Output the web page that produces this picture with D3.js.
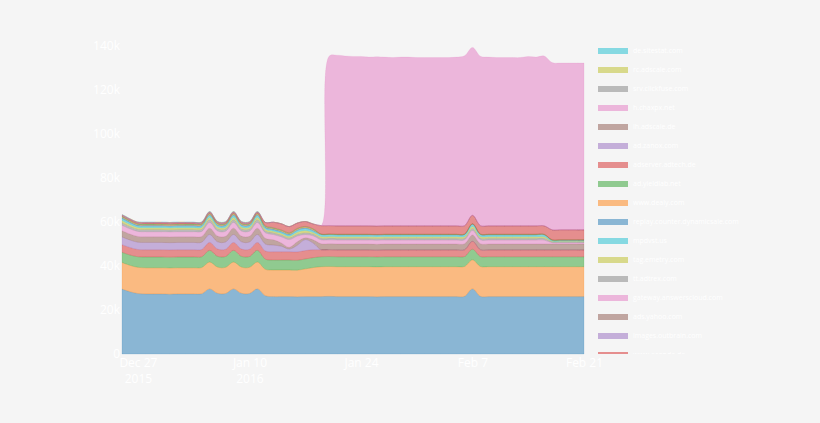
<!DOCTYPE html>
<html><head><meta charset="utf-8">
<script src="https://cdn.jsdelivr.net/npm/d3@7"></script>
<style>
html,body{margin:0;padding:0;background:#f5f5f5;}
svg{display:block;font-family:"Open Sans",sans-serif;}
</style></head>
<body>
<svg id="chart" width="820" height="423"></svg>
<script>
// ---- DATA (values in thousands of requests, one per day from Dec 25 2015) ----
const startDate = new Date(2015, 11, 25);
const dayCount = 59;
const seriesNames = [
  "stats.g.doubleclick.net","www.google-analytics.com","www.googletagmanager.com","www.econda.de",
  "images.outbrain.com","ads.yahoo.com","gateway.answerscloud.com","tt.adtrex.com",
  "tag.emetry.com","mpdvst.us","replay.counter.dynamicsale.com","www.dealy.com",
  "ad.yieldlab.net","adserver.adtech.de","ad.zanox.com","ih.adscale.de",
  "h.chaxpx.net","srv.clickfuse.com","rc.adscale.com","de.sitestat.com"
];
const s0 = [29.5,28.3,27.5,27.3,27.3,27.3,27.2,27.3,27.3,27.3,
  27.4,29.6,27.6,27.5,29.6,27.6,27.5,29.6,26.5,26.1,
  26.1,26.1,26.0,26.1,26.1,26.1,26.2,26.1,26.1,26.1,
  26.1,26.1,26.0,26.1,26.1,26.1,26.1,26.1,26.1,26.1,
  26.1,26.1,26.1,26.2,29.6,26.2,26.1,26.1,26.1,26.1,
  26.1,26.1,26.1,26.1,26.1,26.1,26.1,26.1,26.1];
const s1 = [12.1,12.0,11.9,11.9,11.9,11.9,11.9,11.9,11.9,11.9,
  11.9,12.2,11.9,11.9,12.2,11.9,11.9,12.2,12.0,12.1,
  12.1,12.1,12.1,12.6,13.2,13.6,13.6,13.6,13.6,13.6,
  13.6,13.6,13.6,13.6,13.6,13.6,13.6,13.6,13.6,13.6,
  13.6,13.6,13.6,13.6,13.2,13.6,13.6,13.6,13.6,13.6,
  13.6,13.6,13.6,13.6,13.6,13.6,13.6,13.6,13.6];
const s2 = [4.6,4.7,4.8,4.9,4.9,4.9,4.9,4.9,4.9,4.9,
  4.9,5.3,4.9,4.9,5.3,4.9,4.9,5.3,4.6,4.5,
  4.5,4.5,4.5,4.5,4.5,4.5,4.5,4.5,4.5,4.5,
  4.5,4.5,4.5,4.5,4.5,4.5,4.5,4.5,4.5,4.5,
  4.5,4.5,4.5,4.5,4.8,4.5,4.5,4.5,4.5,4.5,
  4.5,4.5,4.5,4.5,4.5,4.5,4.5,4.5,4.5];
const s3 = [3.5,3.4,3.3,3.3,3.3,3.3,3.3,3.3,3.3,3.3,
  3.3,3.6,3.3,3.3,3.6,3.3,3.3,3.6,3.7,3.8,
  3.8,3.8,3.8,3.8,3.6,3.2,3.1,3.1,3.1,3.1,
  3.1,3.1,3.1,3.1,3.1,3.1,3.1,3.1,3.1,3.1,
  3.1,3.1,3.1,3.1,3.6,3.1,3.1,3.1,3.1,3.1,
  3.1,3.1,3.1,3.1,3.1,3.1,3.1,3.1,3.1];
const s4 = [3.5,3.4,3.3,3.3,3.3,3.3,3.3,3.3,3.3,3.3,
  3.3,3.6,3.3,3.3,3.6,3.3,3.3,3.6,3.2,3.0,
  2.5,1.2,3.0,5.0,3.0,0,0,0,0,0,
  0,0,0,0,0,0,0,0,0,0,
  0,0,0,0,0,0,0,0,0,0,
  0,0,0,0,0,0,0,0,0];
const s5 = [2.8,2.7,2.6,2.6,2.6,2.6,2.6,2.6,2.6,2.6,
  2.6,2.9,2.6,2.6,2.9,2.6,2.6,2.9,2.6,2.4,
  1.5,0.8,1.6,0.8,1.5,2.7,2.7,2.7,2.7,2.7,
  2.7,2.7,2.7,2.7,2.7,2.7,2.7,2.7,2.7,2.7,
  2.7,2.7,2.7,2.7,2.9,2.7,2.7,2.7,2.7,2.7,
  2.7,2.7,2.7,2.7,2.7,2.7,2.7,2.7,2.7];
const s6 = [2.5,2.4,2.3,2.3,2.3,2.3,2.3,2.3,2.3,2.3,
  2.3,2.6,2.3,2.3,2.6,2.3,2.3,2.6,2.5,2.4,
  2.8,3.5,2.6,1.5,1.8,1.8,1.8,1.8,1.8,1.8,
  1.8,1.8,1.8,1.8,1.8,1.8,1.8,1.8,1.8,1.8,
  1.8,1.8,1.8,1.8,2.0,1.8,1.8,1.8,1.8,1.8,
  1.8,1.8,1.8,1.8,0.6,0.6,0.6,0.6,0.6];
const s7 = [1.2,1.1,1.0,1.0,1.0,1.0,1.0,1.0,1.0,1.0,
  1.0,1.2,1.0,1.0,1.2,1.0,1.0,1.2,0.9,0.8,
  0.8,0.8,0.8,0.8,0.8,0.8,0.8,0.8,0.8,0.8,
  0.8,0.8,0.8,0.8,0.8,0.8,0.8,0.8,0.8,0.8,
  0.8,0.8,0.8,0.8,1.0,0.8,0.8,0.8,0.8,0.8,
  0.8,0.8,0.8,0.8,0.4,0.4,0.4,0.4,0.4];
const s8 = [1.0,0.9,0.8,0.8,0.8,0.8,0.8,0.8,0.8,0.8,
  0.8,1.0,0.8,0.8,1.0,0.8,0.8,1.0,0.7,0.7,
  0.7,0.7,0.9,1.0,0.7,0.7,0.7,0.7,0.7,0.7,
  0.7,0.7,0.7,0.7,0.7,0.7,0.7,0.7,0.7,0.7,
  0.7,0.7,0.7,0.7,0.9,0.7,0.7,0.7,0.7,0.7,
  0.7,0.7,0.7,0.7,0.3,0.3,0.3,0.3,0.3];
const s9 = [0.9,0.8,0.7,0.7,0.7,0.7,0.7,0.7,0.7,0.7,
  0.7,0.9,0.7,0.7,0.9,0.7,0.7,0.9,0.6,0.6,
  0.6,0.6,0.8,0.9,0.7,0.8,0.8,0.8,0.8,0.8,
  0.8,0.8,0.8,0.8,0.8,0.8,0.8,0.8,0.8,0.8,
  0.8,0.8,0.8,0.8,0.9,0.8,0.8,0.8,0.8,0.8,
  0.8,0.8,0.8,0.8,0.3,0.3,0.3,0.3,0.3];
const s10 = [0.4,0.4,0.4,0.4,0.4,0.4,0.4,0.4,0.4,0.4,
  0.4,0.4,0.4,0.4,0.4,0.4,0.4,0.4,0.4,0.4,
  0.4,0.4,0.4,0.4,0.4,0.15,0.15,0.15,0.15,0.15,
  0.15,0.15,0.15,0.15,0.15,0.15,0.15,0.15,0.15,0.15,
  0.15,0.15,0.15,0.15,0.15,0.15,0.15,0.15,0.15,0.15,
  0.15,0.15,0.15,0.15,0.15,0.15,0.15,0.15,0.15];
const s11 = [0.3,0.3,0.3,0.3,0.3,0.3,0.3,0.3,0.3,0.3,
  0.3,0.3,0.3,0.3,0.3,0.3,0.3,0.3,0.3,0.3,
  0.3,0.3,0.3,0.3,0.3,0.1,0.1,0.1,0.1,0.1,
  0.1,0.1,0.1,0.1,0.1,0.1,0.1,0.1,0.1,0.1,
  0.1,0.1,0.1,0.1,0.1,0.1,0.1,0.1,0.1,0.1,
  0.1,0.1,0.1,0.1,0.1,0.1,0.1,0.1,0.1];
const s12 = [0.3,0.3,0.3,0.3,0.3,0.3,0.3,0.3,0.3,0.3,
  0.3,0.3,0.3,0.3,0.3,0.3,0.3,0.3,0.3,0.3,
  0.3,0.3,0.3,0.3,0.3,0.1,0.1,0.1,0.1,0.1,
  0.1,0.1,0.1,0.1,0.1,0.1,0.1,0.1,0.1,0.1,
  0.1,0.1,0.1,0.1,0.1,0.1,0.1,0.1,0.1,0.1,
  0.1,0.1,0.1,0.1,0.1,0.1,0.1,0.1,0.1];
const s13 = [0.4,0.4,0.4,0.4,0.4,0.4,0.4,0.4,0.4,0.4,
  0.4,0.4,0.4,0.4,0.4,0.4,0.4,0.4,1.5,2.5,
  2.8,2.8,2.4,2.2,2.2,3.8,3.8,3.8,3.8,3.8,
  3.8,3.8,3.8,3.8,3.8,3.8,3.8,3.8,3.8,3.8,
  3.8,3.8,3.8,3.8,3.8,3.8,3.8,3.8,3.8,3.8,
  3.8,3.8,3.8,3.8,4.5,4.5,4.5,4.5,4.5];
const s14 = [0.15,0.15,0.15,0.15,0.15,0.15,0.15,0.15,0.15,0.15,
  0.15,0.15,0.15,0.15,0.15,0.15,0.15,0.15,0,0,
  0,0,0,0,0,0,0,0,0,0,
  0,0,0,0,0,0,0,0,0,0,
  0,0,0,0,0,0,0,0,0,0,
  0,0,0,0,0,0,0,0,0];
const s15 = [0.15,0.15,0.15,0.15,0.15,0.15,0.15,0.15,0.15,0.15,
  0.15,0.15,0.15,0.15,0.15,0.15,0.15,0.15,0,0,
  0,0,0,0,0,0,0,0,0,0,
  0,0,0,0,0,0,0,0,0,0,
  0,0,0,0,0,0,0,0,0,0,
  0,0,0,0,0,0,0,0,0];
const s16 = [0,0,0,0,0,0,0,0,0,0,
  0,0,0,0,0,0,0,0,0,0,
  0,0,0,0,0,0,77.0,77.6,77.2,77.0,
  77.0,76.7,77.0,76.7,76.5,76.7,76.7,76.5,76.5,76.5,
  76.5,76.5,76.7,77.2,76.3,77.0,76.7,76.5,76.5,76.5,
  76.5,77.0,76.7,77.2,76.0,75.8,75.8,75.8,75.8];
const s17 = [0.15,0.15,0.15,0.15,0.15,0.15,0.15,0.15,0.15,0.15,
  0.15,0.15,0.15,0.15,0.15,0.15,0.15,0.15,0.15,0.15,
  0.15,0.15,0.15,0.15,0.15,0,0,0,0,0,
  0,0,0,0,0,0,0,0,0,0,
  0,0,0,0,0,0,0,0,0,0,
  0,0,0,0,0,0,0,0,0];
const s18 = [0.1,0.1,0.1,0.1,0.1,0.1,0.1,0.1,0.1,0.1,
  0.1,0.1,0.1,0.1,0.1,0.1,0.1,0.1,0.1,0.1,
  0.1,0.1,0.1,0.1,0.1,0,0,0,0,0,
  0,0,0,0,0,0,0,0,0,0,
  0,0,0,0,0,0,0,0,0,0,
  0,0,0,0,0,0,0,0,0];
const s19 = [0.1,0.1,0.1,0.1,0.1,0.1,0.1,0.1,0.1,0.1,
  0.1,0.1,0.1,0.1,0.1,0.1,0.1,0.1,0,0,
  0,0,0,0,0,0,0,0,0,0,
  0,0,0,0,0,0,0,0,0,0,
  0,0,0,0,0,0,0,0,0,0,
  0,0,0,0,0,0,0,0,0];
const seriesValues = [s0,s1,s2,s3,s4,s5,s6,s7,s8,s9,s10,s11,s12,s13,s14,s15,s16,s17,s18,s19];
const yTicks = [0,20,40,60,80,100,120,140];
const xTickDates = [new Date(2015,11,27), new Date(2016,0,10), new Date(2016,0,24), new Date(2016,1,7), new Date(2016,1,21)];
const xTickLabels = [["Dec 27","2015"],["Jan 10","2016"],["Jan 24"],["Feb 7"],["Feb 21"]];

// ---- BUILD ----
(function () {
const rows = d3.range(dayCount).map(i => {
  const r = {date: d3.timeDay.offset(startDate, i)};
  seriesNames.forEach((n, k) => r[n] = seriesValues[k][i]);
  return r;
});

const svg = d3.select("#chart");
const mLeft = 122, mRight = 584, mTop = 46, mBottom = 354;

const x = d3.scaleTime().domain([startDate, d3.timeDay.offset(startDate, dayCount - 1)]).range([mLeft, mRight]);
const y = d3.scaleLinear().domain([0, 140]).range([mBottom, mTop]);
const color = d3.scaleOrdinal().domain(d3.range(20)).range(d3.range(20).map(i => d3.schemeCategory10[i % 10]));

const layers = d3.stack().keys(seriesNames)(rows);

const area = d3.area()
  .x(d => x(d.data.date))
  .y0(d => y(d[0]))
  .y1(d => y(d[1]))
  .curve(d3.curveCatmullRom.alpha(0.5));

svg.append("g").selectAll("path").data(layers).join("path")
  .attr("d", area)
  .attr("fill", (d, i) => color(i))
  .attr("fill-opacity", 0.5)
  .attr("stroke", (d, i) => color(i))
  .attr("stroke-opacity", (d, i) => i <= 16 ? 0.14 : 0)
  .attr("stroke-width", 1);

// y axis
const yAxis = svg.append("g").attr("transform", `translate(${mLeft - 2},0)`)
  .call(d3.axisLeft(y).tickValues(yTicks).tickSize(0).tickPadding(0)
    .tickFormat(v => v === 0 ? "0" : v + "k"));
yAxis.select(".domain").remove();
yAxis.selectAll("text").attr("fill", "#ffffff").style("font-size", "12px").style("font-family", "'Open Sans',sans-serif");

// x axis
const xAxis = svg.append("g").attr("transform", `translate(0,${mBottom})`)
  .call(d3.axisBottom(x).tickValues(xTickDates).tickSize(0).tickPadding(0).tickFormat(""));
xAxis.select(".domain").remove();
xAxis.selectAll(".tick").each(function(d, i) {
  const t = d3.select(this).append("text")
    .attr("fill", "#ffffff").attr("text-anchor", "middle")
    .style("font-size", "12px").style("font-family", "'Open Sans',sans-serif");
  xTickLabels[i].forEach((line, j) => {
    t.append("tspan").attr("x", 0).attr("y", 13 + j * 16).text(line);
  });
});

// legend (clipped to plot height)
svg.append("clipPath").attr("id", "legclip").append("rect")
  .attr("x", 590).attr("y", 0).attr("width", 230).attr("height", mBottom);
const legend = svg.append("g").attr("clip-path", "url(#legclip)");
const legendOrder = d3.range(seriesNames.length).reverse();
const leg = legend.selectAll("g").data(legendOrder).join("g")
  .attr("transform", (d, i) => `translate(598,${51 + i * 19})`);
leg.append("rect").attr("x", 0).attr("y", -3).attr("width", 30).attr("height", 6)
  .attr("fill", d => color(d)).attr("fill-opacity", 0.5);
leg.append("text").attr("x", 35).attr("y", 0).attr("dy", "0.35em")
  .attr("fill", "#ffffff").style("font-size", "7px")
  .style("font-family", "'Open Sans',sans-serif")
  .text(d => seriesNames[d]);
})();
</script>
</body></html>
